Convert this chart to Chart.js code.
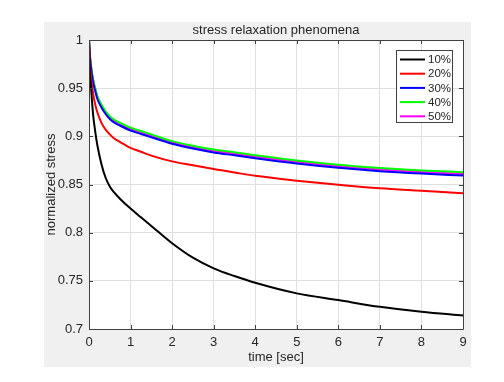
<!DOCTYPE html>
<html><head><meta charset="utf-8">
<script src="https://cdn.jsdelivr.net/npm/chart.js@4"></script>
<style>html,body{margin:0;padding:0;background:#fff}#c{display:block}</style>
</head><body>
<canvas id="c" width="504" height="382"></canvas>
<script>
const time = [0, 0.02, 0.05, 0.1, 0.15, 0.2, 0.3, 0.4, 0.5, 0.6, 0.75, 1, 1.25, 1.5, 2, 2.5, 3, 3.5, 4, 5, 6, 7, 8, 9];
const s10 = [1.0, 0.968, 0.95, 0.922, 0.905, 0.891, 0.871, 0.857, 0.848, 0.842, 0.835, 0.825, 0.816, 0.807, 0.789, 0.774, 0.763, 0.755, 0.748, 0.737, 0.730, 0.723, 0.718, 0.714];
const s20 = [1.0, 0.976, 0.961, 0.944, 0.933, 0.925, 0.914, 0.907, 0.902, 0.898, 0.894, 0.888, 0.884, 0.880, 0.874, 0.870, 0.866, 0.8625, 0.859, 0.854, 0.8497, 0.846, 0.8435, 0.841];
const s30 = [1.0, 0.984, 0.9705, 0.956, 0.947, 0.939, 0.930, 0.9232, 0.918, 0.9145, 0.911, 0.906, 0.9025, 0.899, 0.8923, 0.8873, 0.8833, 0.8803, 0.8773, 0.8718, 0.8673, 0.8638, 0.8613, 0.8593];
const s40 = [1.0, 0.985, 0.9725, 0.9588, 0.950, 0.942, 0.933, 0.926, 0.921, 0.9175, 0.914, 0.909, 0.9055, 0.902, 0.895, 0.8903, 0.8863, 0.8834, 0.8804, 0.875, 0.8706, 0.8672, 0.8646, 0.8628];
const s50 = [1.0, 0.985, 0.972, 0.958, 0.949, 0.941, 0.932, 0.925, 0.920, 0.9165, 0.913, 0.908, 0.9045, 0.901, 0.894, 0.889, 0.885, 0.882, 0.879, 0.8735, 0.869, 0.8655, 0.863, 0.861];
const seriesLabels = ['10%', '20%', '30%', '40%', '50%'];
const seriesColors = ['#000000', '#ff0000', '#0000ff', '#00ff00', '#ff00ff'];
const xTicks = [0, 1, 2, 3, 4, 5, 6, 7, 8, 9];
const yTicks = [0.7, 0.75, 0.8, 0.85, 0.9, 0.95, 1];
const yTickLabels = ['0.7', '0.75', '0.8', '0.85', '0.9', '0.95', '1'];
const chartTitle = 'stress relaxation phenomena';
const xTitle = 'time [sec]';
const yTitle = 'normalized stress';

const FONT = "'Liberation Sans', Arial, Helvetica, sans-serif";
const TXT = '#262626';
const seriesValues = [s10, s20, s30, s40, s50];

const datasets = seriesValues.map((vals, i) => ({
  label: seriesLabels[i],
  data: time.map((t, k) => ({x: t, y: vals[k]})),
  borderColor: seriesColors[i],
  backgroundColor: seriesColors[i],
  borderWidth: 2,
  pointRadius: 0,
  fill: false,
  cubicInterpolationMode: 'monotone'
}));

const decor = {
  id: 'decor',
  beforeDraw(chart) {
    const ctx = chart.ctx;
    ctx.save();
    ctx.fillStyle = '#ffffff';
    ctx.fillRect(0, 0, chart.width, chart.height);
    ctx.fillStyle = '#f0f0f0';
    ctx.fillRect(44, 22, 427, 345);
    const a = chart.chartArea;
    ctx.fillStyle = '#ffffff';
    ctx.fillRect(a.left, a.top, a.right - a.left, a.bottom - a.top);
    ctx.restore();
  },
  afterDatasetsDraw(chart) {
    const ctx = chart.ctx;
    const a = chart.chartArea;
    const xs = chart.scales.x, ys = chart.scales.y;
    ctx.save();
    ctx.strokeStyle = '#404040';
    ctx.lineWidth = 1;
    ctx.beginPath();
    ctx.rect(Math.round(a.left) + 0.5, Math.round(a.top) + 0.5, Math.round(a.right - a.left), Math.round(a.bottom - a.top));
    ctx.stroke();
    const L = 4;
    ctx.beginPath();
    xTicks.forEach(v => {
      const px = Math.round(xs.getPixelForValue(v)) + 0.5;
      ctx.moveTo(px, a.bottom); ctx.lineTo(px, a.bottom - L);
      ctx.moveTo(px, a.top); ctx.lineTo(px, a.top + L);
    });
    yTicks.forEach(v => {
      const py = Math.round(ys.getPixelForValue(v)) + 0.5;
      ctx.moveTo(a.left, py); ctx.lineTo(a.left + L, py);
      ctx.moveTo(a.right, py); ctx.lineTo(a.right - L, py);
    });
    ctx.stroke();
    ctx.fillStyle = TXT;
    ctx.font = '13px ' + FONT;
    ctx.textAlign = 'center';
    ctx.textBaseline = 'middle';
    ctx.fillText(chartTitle, (a.left + a.right) / 2, 30);
    ctx.restore();
  },
  afterDraw(chart) {
    const ctx = chart.ctx;
    ctx.save();
    const bx = 396, by = 50, bw = 56, bh = 72;
    ctx.fillStyle = '#ffffff';
    ctx.fillRect(bx, by, bw, bh);
    ctx.strokeStyle = '#404040';
    ctx.lineWidth = 1;
    ctx.strokeRect(bx + 0.5, by + 0.5, bw, bh);
    ctx.font = '11.5px ' + FONT;
    ctx.textAlign = 'left';
    ctx.textBaseline = 'middle';
    chart.data.datasets.forEach((ds, i) => {
      const y = by + 9.5 + i * 14.2;
      ctx.strokeStyle = ds.borderColor;
      ctx.lineWidth = 2;
      ctx.beginPath();
      ctx.moveTo(bx + 4, y); ctx.lineTo(bx + 29, y);
      ctx.stroke();
      ctx.fillStyle = TXT;
      ctx.fillText(ds.label, bx + 32, y + 0.5);
    });
    ctx.restore();
  }
};

new Chart(document.getElementById('c'), {
  type: 'line',
  data: { datasets },
  plugins: [decor],
  options: {
    responsive: false,
    animation: false,
    devicePixelRatio: 1,
    layout: { padding: { left: 44, top: 40, right: 41, bottom: 15 } },
    plugins: { legend: { display: false }, title: { display: false }, tooltip: { enabled: false } },
    scales: {
      x: {
        type: 'linear', min: 0, max: 9,
        afterBuildTicks: s => { s.ticks = xTicks.map(v => ({ value: v })); },
        afterFit: s => { s.height = 38; },
        grid: { color: '#dfdfdf', drawTicks: false, tickLength: 0 },
        border: { display: false },
        ticks: { padding: 6, color: TXT, maxRotation: 0, autoSkip: false, font: { family: FONT, size: 13 } },
        title: { display: true, text: xTitle, color: TXT, font: { family: FONT, size: 13 }, padding: { top: 0, bottom: 2 } }
      },
      y: {
        type: 'linear', min: 0.7, max: 1,
        afterBuildTicks: s => { s.ticks = yTicks.map(v => ({ value: v })); },
        afterFit: s => { s.width = 45; },
        grid: { color: '#dfdfdf', drawTicks: false, tickLength: 0 },
        border: { display: false },
        ticks: { padding: 6, color: TXT, autoSkip: false, font: { family: FONT, size: 13 },
          callback: (v) => { const i = yTicks.findIndex(t => Math.abs(t - v) < 1e-9); return i >= 0 ? yTickLabels[i] : ''; } },
        title: { display: true, text: yTitle, color: TXT, font: { family: FONT, size: 13 }, padding: { top: 0, bottom: 0 } }
      }
    }
  }
});
</script>
</body></html>
